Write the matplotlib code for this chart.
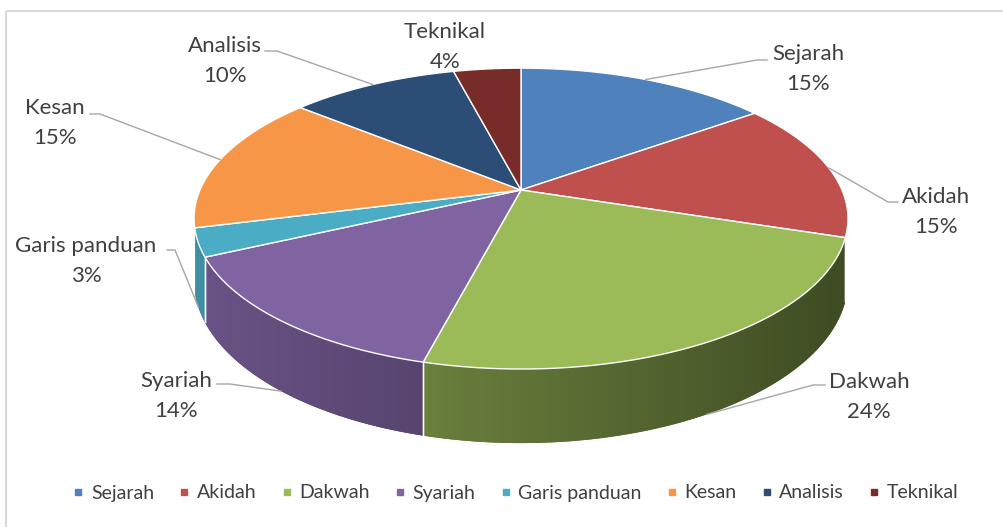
import numpy as np
import matplotlib.pyplot as plt
from matplotlib.patches import Polygon, Rectangle
from matplotlib.lines import Line2D
from matplotlib.colors import to_rgb

plt.rcParams['font.family'] = ['Lato', 'DejaVu Sans']

categories = ['Sejarah', 'Akidah', 'Dakwah', 'Syariah', 'Garis panduan', 'Kesan', 'Analisis', 'Teknikal']
values = [15, 15, 24, 14, 3, 15, 10, 4]
pct_labels = ['15%', '15%', '24%', '14%', '3%', '15%', '10%', '4%']
colors = ['#4F81BD', '#C0504D', '#9BBB59', '#8064A2', '#4BACC6', '#F79646', '#2C4D75', '#772C2A']

# label layout (pixel space): text centre x, name baseline y, elbow of leader line
label_xy = [(808, 60), (936, 203), (869, 388), (176, 387), (86, 252), (55, 114), (225, 52), (445, 38)]
elbows = [[(767, 60), (757, 60)], [(898, 202), (888, 202)], [(825, 385), (813, 385)],
          [(217, 384), (230, 384)], [(167, 250), (175, 250)], [(90, 114), (100, 114)],
          [(265, 51), (277, 51)], None]

# pie geometry (pixels)
cx, cy = 521, 190
rx, ry = 321, 145
persp = 0.19
depth = 60
text_col = '#404040'


def proj(theta, z=0.0):
    t = np.radians(theta)
    u, v = np.cos(t), np.sin(t)
    s = 1 + persp * v
    return cx + rx * u / s, cy - ry * v / s + z * depth / s


fig = plt.figure(figsize=(10.04, 5.27), dpi=100)
ax = fig.add_axes([0, 0, 1, 1])
ax.set_xlim(0, 1004)
ax.set_ylim(527, 0)
ax.axis('off')

ax.add_patch(Rectangle((6.5, 10.5), 1100, 600, fill=False, ec='#D9D9D9', lw=1.5))

total = float(sum(values))
cum = np.concatenate([[0], np.cumsum(values)])
starts = 90 - 360 * cum[:-1] / total
ends = 90 - 360 * cum[1:] / total

vis_lo, vis_hi = -164.0, -17.5

# horizontal shading ramp for the side walls
gx = np.linspace(0, 1004, 1004)
ramp = np.clip(0.83 - 0.00066 * (gx - 200), 0.3, 1.0)

# side walls
for st, en, col in zip(starts, ends, colors):
    base = np.array(to_rgb(col))
    for off in (0, -360):
        lo, hi = max(en + off, vis_lo), min(st + off, vis_hi)
        if lo >= hi:
            continue
        th = np.linspace(lo, hi, max(int((hi - lo) * 3), 2))
        pts = [proj(t) for t in th] + [proj(t, 1) for t in th[::-1]]
        wall = Polygon(pts, closed=True, fc=base * 0.6, ec='none')
        ax.add_patch(wall)
        img = np.tile((ramp[:, None] * base[None, :])[None, :, :], (2, 1, 1))
        im = ax.imshow(img, extent=(0, 1004, 527, 0), aspect='auto', interpolation='bilinear', zorder=1.5)
        im.set_clip_path(wall)
        for ang in (lo, hi):
            if ang in (vis_lo, vis_hi):
                continue
            (x1, y1), (x2, y2) = proj(ang), proj(ang, 1)
            ax.plot([x1, x2], [y1, y2], color='white', lw=1.0, alpha=0.9, zorder=2)

# top faces
for st, en, col in zip(starts, ends, colors):
    th = np.linspace(st, en, max(int(abs(st - en) * 2), 3))
    pts = [(cx, cy)] + [proj(t) for t in th]
    ax.add_patch(Polygon(pts, closed=True, fc=col, ec='white', lw=1.0, zorder=3))

# data labels with leader lines
for i, (st, en) in enumerate(zip(starts, ends)):
    tx, ty = label_xy[i]
    ax.text(tx, ty, categories[i], ha='center', va='baseline', fontsize=16, color=text_col)
    ax.text(tx, ty + 30, pct_labels[i], ha='center', va='baseline', fontsize=16, color=text_col)
    if elbows[i] is None:
        continue
    mid = (st + en) / 2
    z = 1 if np.sin(np.radians(mid)) < -persp else 0
    ex, ey = proj(mid, z)
    xs = [p[0] for p in elbows[i]] + [ex]
    ys = [p[1] for p in elbows[i]] + [ey]
    ax.plot(xs, ys, color='#A6A6A6', lw=1.0, zorder=4)

handles = [Line2D([], [], marker='s', ls='none', color=c, markersize=5) for c in colors]
fig.legend(handles, categories, loc='center', bbox_to_anchor=(516 / 1004, 1 - 493 / 527), ncol=8,
           frameon=False, fontsize=14, handlelength=0.5, handletextpad=0.4, columnspacing=1.3,
           labelcolor=text_col)

fig.savefig('out.png', dpi=100)
